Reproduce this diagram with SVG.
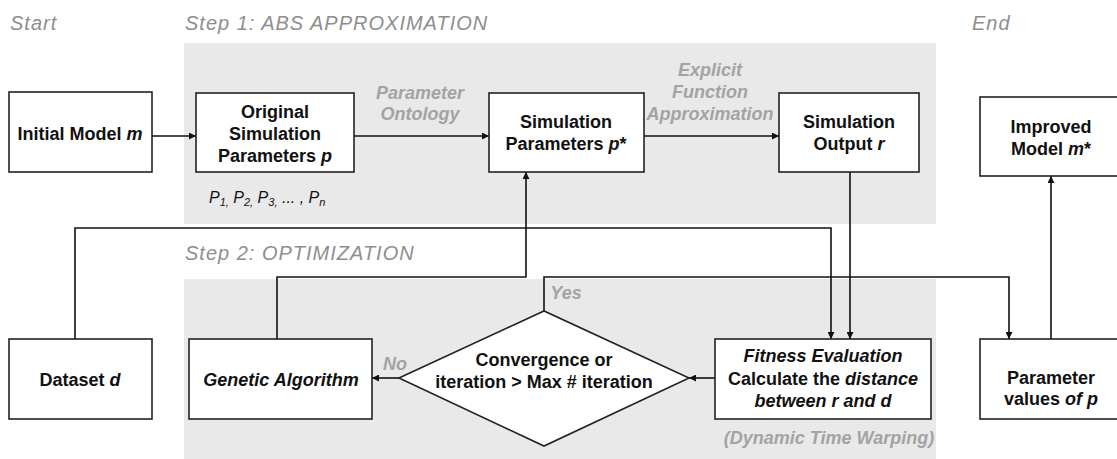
<svg xmlns="http://www.w3.org/2000/svg" width="1117" height="459" viewBox="0 0 1117 459">
<defs>
<marker id="ah" markerWidth="7" markerHeight="7" refX="7" refY="3.5" orient="auto" markerUnits="userSpaceOnUse">
<path d="M0,0 L7,3.5 L0,7 z" fill="#111"/>
</marker>
<style>
.box{fill:#fff;stroke:#222;stroke-width:1.6}
.t{font-family:"Liberation Sans",Arial,sans-serif;font-size:18px;font-weight:bold;fill:#111;text-anchor:middle}
.i{font-style:italic}
.sec{font-family:"Liberation Sans",Arial,sans-serif;font-size:20px;font-style:italic;fill:#8e8e8e;letter-spacing:1px}
.lab{font-family:"Liberation Sans",Arial,sans-serif;font-size:18px;font-style:italic;font-weight:bold;fill:#a3a3a3;text-anchor:middle}
.c{fill:none;stroke:#111;stroke-width:1.6}
.sub{font-family:"Liberation Sans",Arial,sans-serif;font-size:16px;font-style:italic;fill:#111}
</style>
</defs>
<rect x="0" y="0" width="1117" height="459" fill="#fff"/>
<g id="regions">
<rect x="184" y="43" width="752" height="181" fill="#e9e9e9"/>
<rect x="184" y="279" width="752" height="180" fill="#e9e9e9"/>
</g>
<g id="section-labels">
<text class="sec" x="10" y="30">Start</text>
<text class="sec" x="185" y="30">Step 1: ABS APPROXIMATION</text>
<text class="sec" x="972" y="30">End</text>
<text class="sec" x="185" y="260">Step 2: OPTIMIZATION</text>
</g>
<g id="connectors">
<path class="c" d="M152,136 H196" marker-end="url(#ah)"/>
<path class="c" d="M354,136 H489" marker-end="url(#ah)"/>
<path class="c" d="M644,136 H779" marker-end="url(#ah)"/>
<path class="c" d="M850,172 V339" marker-end="url(#ah)"/>
<path class="c" d="M75,339 V228 H831 V339" marker-end="url(#ah)"/>
<path class="c" d="M277,339 V277 H526 V172" marker-end="url(#ah)"/>
<path class="c" d="M544,311 V277 H1009 V339" marker-end="url(#ah)"/>
<path class="c" d="M1051,339 V176" marker-end="url(#ah)"/>
<path class="c" d="M715,378 H689" marker-end="url(#ah)"/>
<path class="c" d="M399,378 H372" marker-end="url(#ah)"/>
<text class="lab" x="420" y="99">Parameter</text>
<text class="lab" x="420" y="120">Ontology</text>
<text class="lab" x="710" y="76">Explicit</text>
<text class="lab" x="710" y="98">Function</text>
<text class="lab" x="710" y="120">Approximation</text>
<text class="lab" x="566" y="299">Yes</text>
<text class="lab" x="395" y="370">No</text>
<text class="lab" x="829" y="444">(Dynamic Time Warping)</text>
</g>
<g id="initial-model">
<rect class="box" x="9" y="92" width="143" height="80"/>
<text class="t" x="80" y="140">Initial Model <tspan class="i">m</tspan></text>
</g>
<g id="original-params">
<rect class="box" x="196" y="93" width="158" height="79"/>
<text class="t" x="275" y="118">Original</text>
<text class="t" x="275" y="140">Simulation</text>
<text class="t" x="275" y="162">Parameters <tspan class="i">p</tspan></text>
<text class="sub" x="209" y="203">P<tspan font-size="11" dy="3">1,</tspan><tspan dy="-3"> P</tspan><tspan font-size="11" dy="3">2,</tspan><tspan dy="-3"> P</tspan><tspan font-size="11" dy="3">3,</tspan><tspan dy="-3"> ... , P</tspan><tspan font-size="11" dy="3">n</tspan></text>
</g>
<g id="sim-params">
<rect class="box" x="489" y="93" width="155" height="79"/>
<text class="t" x="566" y="128">Simulation</text>
<text class="t" x="566" y="150">Parameters <tspan class="i">p</tspan>*</text>
</g>
<g id="sim-output">
<rect class="box" x="779" y="93" width="140" height="79"/>
<text class="t" x="849" y="128">Simulation</text>
<text class="t" x="849" y="150">Output <tspan class="i">r</tspan></text>
</g>
<g id="improved-model">
<rect class="box" x="980" y="97" width="143" height="79"/>
<text class="t" x="1051" y="133">Improved</text>
<text class="t" x="1051" y="155">Model <tspan class="i">m</tspan>*</text>
</g>
<g id="dataset">
<rect class="box" x="9" y="339" width="143" height="80"/>
<text class="t" x="80" y="386">Dataset <tspan class="i">d</tspan></text>
</g>
<g id="genetic-algorithm">
<rect class="box" x="189" y="339" width="183" height="80"/>
<text class="t i" x="281" y="386">Genetic Algorithm</text>
</g>
<g id="convergence">
<path class="box" d="M399,378 L544,311 L689,378 L544,446 z"/>
<text class="t" x="544" y="366">Convergence or</text>
<text class="t" x="544" y="388">iteration &gt; Max # iteration</text>
</g>
<g id="fitness">
<rect class="box" x="715" y="339" width="216" height="80"/>
<text class="t i" x="823" y="362">Fitness Evaluation</text>
<text class="t" x="823" y="385">Calculate the <tspan class="i">distance</tspan></text>
<text class="t i" x="823" y="407">between r and d</text>
</g>
<g id="param-values">
<rect class="box" x="980" y="339" width="143" height="80"/>
<text class="t" x="1051" y="384">Parameter</text>
<text class="t" x="1051" y="405">values <tspan class="i">of p</tspan></text>
</g>
</svg>
